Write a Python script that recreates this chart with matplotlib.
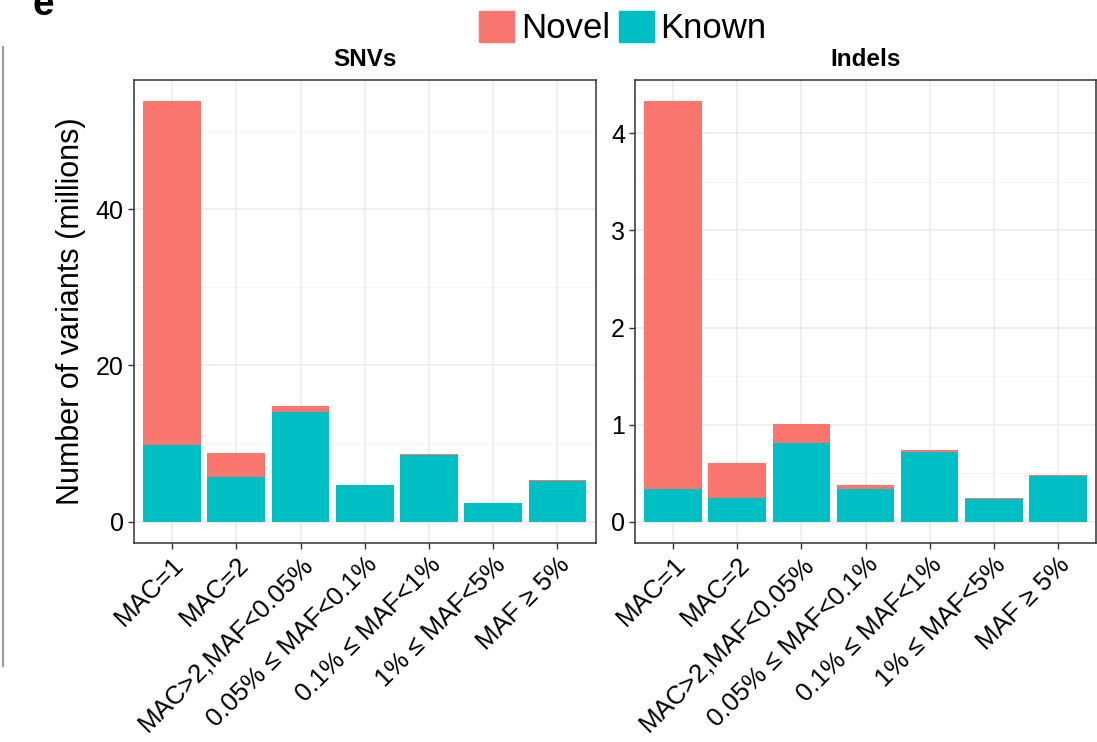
import numpy as np
import matplotlib.pyplot as plt
from matplotlib.patches import Patch
from matplotlib.ticker import MultipleLocator

plt.rcParams['font.family'] = ['Liberation Sans', 'DejaVu Sans']

# Data (millions of variants)
categories = ['MAC=1', 'MAC=2', 'MAC>2,MAF<0.05%', '0.05% ≤ MAF<0.1%',
              '0.1% ≤ MAF<1%', '1% ≤ MAF<5%', 'MAF ≥ 5%']
snv_known = [9.8, 5.7, 14.0, 4.65, 8.5, 2.35, 5.25]
snv_novel = [44.0, 3.06, 0.76, 0.09, 0.13, 0.08, 0.13]
indel_known = [0.34, 0.24, 0.81, 0.34, 0.715, 0.232, 0.466]
indel_novel = [3.99, 0.36, 0.20, 0.033, 0.028, 0.008, 0.012]

panels = [('SNVs', snv_known, snv_novel, 20, 10),
          ('Indels', indel_known, indel_novel, 1, 0.5)]

novel_col = '#F8766D'
known_col = '#00BFC4'

W, H = 1097, 742
fig = plt.figure(figsize=(W / 100, H / 100), dpi=100)


def rect(l, t, r, b):
    return [l / W, 1 - b / H, (r - l) / W, (b - t) / H]


axes = [fig.add_axes(rect(133.5, 80.3, 596, 542.7)),
        fig.add_axes(rect(634.7, 80.3, 1096.3, 542.7))]

x = np.arange(1, len(categories) + 1)
for ax, (title, known, novel, major, minor) in zip(axes, panels):
    known = np.array(known)
    novel = np.array(novel)
    ax.bar(x, known, width=0.9, color=known_col, zorder=3)
    ax.bar(x, novel, width=0.9, bottom=known, color=novel_col, zorder=3)

    top = (known + novel).max()
    ax.set_ylim(-0.05 * top, top * 1.05)
    ax.set_xlim(0.4, len(categories) + 0.6)

    ax.yaxis.set_major_locator(MultipleLocator(major))
    ax.yaxis.set_minor_locator(MultipleLocator(minor))
    ax.set_xticks(x)
    ax.set_xticklabels(categories, rotation=45, ha='right', va='top',
                       rotation_mode='anchor', fontsize=18.5)
    ax.tick_params(axis='y', labelsize=18)
    ax.tick_params(which='major', length=4, width=1, color='#333333', pad=3)
    ax.tick_params(which='minor', length=0)
    ax.yaxis.set_major_formatter(plt.FuncFormatter(lambda v, p: f'{v:g}'))

    ax.grid(which='major', color='#EBEBEB', linewidth=1.1, zorder=0)
    ax.grid(which='minor', axis='y', color='#F2F2F2', linewidth=0.6, zorder=0)
    ax.set_axisbelow(True)
    for s in ax.spines.values():
        s.set_color('#333333')
        s.set_linewidth(1.1)
    ax.set_title(title, fontsize=17.5, fontweight='bold', pad=10)

axes[0].set_ylabel('Number of variants (millions)', fontsize=22, labelpad=7)

handles = [Patch(color=novel_col, label='Novel'),
           Patch(color=known_col, label='Known')]
fig.legend(handles=handles, loc='center', bbox_to_anchor=(623 / W, 1 - 28 / H),
           ncol=2, frameon=False, fontsize=25, handlelength=1.0,
           handleheight=1.0, handletextpad=0.2, columnspacing=0.25,
           borderpad=0)

fig.text(32 / W, 1 - 15 / H, 'e', fontsize=28, fontweight='bold',
         ha='left', va='baseline')
fig.add_artist(plt.Line2D([2.5 / W, 2.5 / W], [1 - 47 / H, 1 - 666 / H],
                          color='#999999', linewidth=1.5))

fig.savefig('out.png', dpi=100)
